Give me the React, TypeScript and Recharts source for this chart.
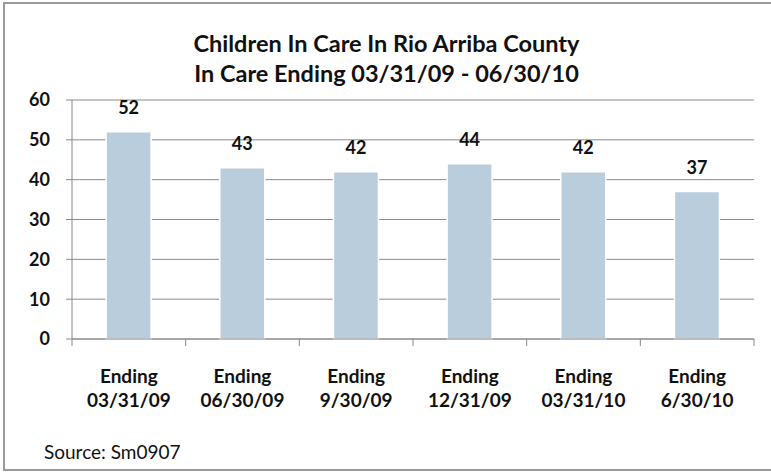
import React from 'react'
import { BarChart, Bar, XAxis, YAxis, CartesianGrid, LabelList } from 'recharts'

const periods = ['03/31/09', '06/30/09', '9/30/09', '12/31/09', '03/31/10', '6/30/10']
const childrenInCare = [52, 43, 42, 44, 42, 37]
const yTicks = [0, 10, 20, 30, 40, 50, 60]

const data = periods.map((p, i) => ({ period: p, count: childrenInCare[i] }))

const FONT = 'Lato, "Open Sans", sans-serif'

const PeriodTick = (props: any) => {
  const { x, y, payload, index, visibleTicksCount } = props
  const half = payload.offset || 0
  return (
    <g>
      <line x1={x - half} y1={y - 8} x2={x - half} y2={y - 1} stroke="#888" />
      {index === visibleTicksCount - 1 && (
        <line x1={x + half} y1={y - 8} x2={x + half} y2={y - 1} stroke="#888" />
      )}
      <text x={x} y={y + 36} textAnchor="middle" fontFamily={FONT} fontWeight={700} fontSize={19} fill="#111">
        Ending
      </text>
      <text x={x} y={y + 60} textAnchor="middle" fontFamily={FONT} fontWeight={700} fontSize={19} fill="#111">
        {payload.value}
      </text>
    </g>
  )
}

const App: React.FC = () => {
  return (
    <div style={{ position: 'absolute', left: 0, top: 0, width: 771, height: 472, background: '#fff', overflow: 'hidden' }}>
      <div
        style={{
          position: 'absolute',
          left: 3,
          top: 2,
          width: 775,
          height: 469,
          boxSizing: 'border-box',
          border: '2px solid #9a9a9a',
          borderRight: 'none',
        }}
      />
      <div
        style={{
          position: 'absolute',
          left: 0,
          top: 28,
          width: 773,
          textAlign: 'center',
          fontFamily: FONT,
          fontWeight: 700,
          fontSize: 23.5,
          lineHeight: '30px',
          color: '#111',
        }}
      >
        <div>Children In Care In Rio Arriba County</div>
        <div>In Care Ending 03/31/09 - 06/30/10</div>
      </div>
      <div style={{ position: 'absolute', left: 0, top: 0 }}>
        <BarChart width={771} height={472} data={data} margin={{ top: 100, right: 17, bottom: 0, left: 12 }} barCategoryGap="30%">
          <CartesianGrid vertical={false} stroke="#8a8a8a" />
          <XAxis
            dataKey="period"
            axisLine={{ stroke: '#888' }}
            tickLine={false}
            height={133}
            interval={0}
            tick={<PeriodTick />}
          />
          <YAxis
            width={60}
            domain={[0, 60]}
            ticks={yTicks}
            axisLine={{ stroke: '#888' }}
            tickLine={{ stroke: '#888' }}
            tickSize={6}
            tickMargin={16}
            tick={{ fontFamily: FONT, fontWeight: 700, fontSize: 18, fill: '#111' }}
          />
          <Bar dataKey="count" fill="#b9cddd" stroke="#ffffff" strokeWidth={1.5} isAnimationActive={false}>
            <LabelList dataKey="count" position="top" offset={18} style={{ fontFamily: FONT, fontWeight: 700, fontSize: 18, fill: '#111' }} />
          </Bar>
        </BarChart>
      </div>
      <div style={{ position: 'absolute', left: 44, top: 442, fontFamily: FONT, fontSize: 19, lineHeight: '20px', color: '#111' }}>
        Source: Sm0907
      </div>
    </div>
  )
}

export default App
